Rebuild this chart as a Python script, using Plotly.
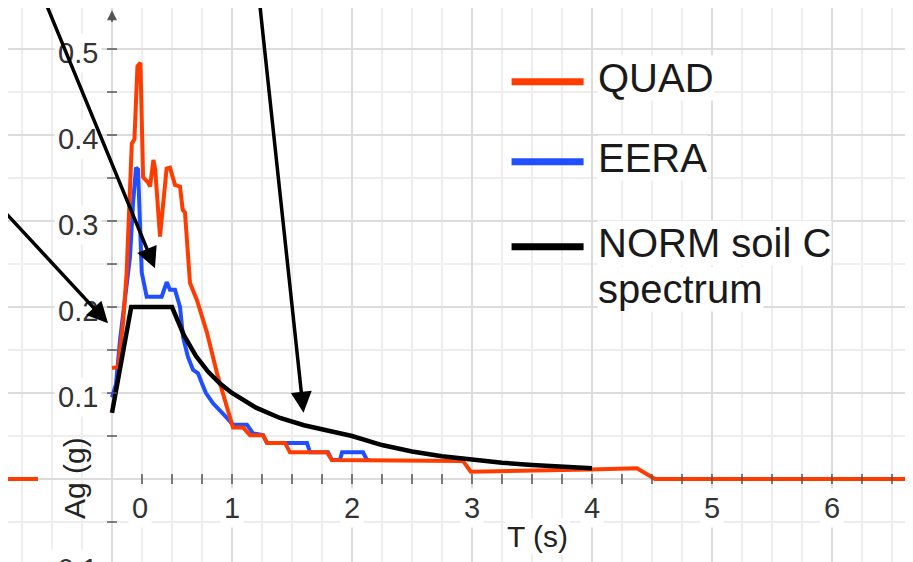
import plotly.graph_objects as go

# values: period T (s) against spectral acceleration Ag (g)
quad_t = [0.0, 0.05, 0.067, 0.092, 0.122, 0.133, 0.165, 0.187, 0.212, 0.237,
          0.259, 0.3, 0.317, 0.345, 0.36, 0.4, 0.455, 0.483, 0.525, 0.567,
          0.589, 0.608, 0.633, 0.65, 0.708, 0.792, 0.875, 0.917, 0.983, 1.008,
          1.092, 1.15, 1.258, 1.292, 1.442, 1.483, 1.792, 1.833, 2.925, 2.99,
          3.98, 4.375, 4.525, 6.742]
quad_ag = [0.129, 0.13, 0.15, 0.181, 0.24, 0.28, 0.39, 0.395, 0.48, 0.484,
           0.351, 0.345, 0.34, 0.371, 0.36, 0.282, 0.361, 0.362, 0.342, 0.34,
           0.313, 0.31, 0.266, 0.228, 0.208, 0.17, 0.123, 0.104, 0.072, 0.06,
           0.06, 0.051, 0.051, 0.042, 0.042, 0.031, 0.031, 0.022, 0.021, 0.0085,
           0.011, 0.0125, 0.0, 0.0]

eera_t = [0.0, 0.033, 0.067, 0.1, 0.15, 0.175, 0.2, 0.217, 0.233, 0.248,
          0.289, 0.414, 0.456, 0.483, 0.525, 0.567, 0.592, 0.633, 0.675, 0.717,
          0.75, 0.783, 0.842, 0.9, 0.958, 1.008, 1.125, 1.175, 1.258, 1.292,
          1.625, 1.65, 1.8, 1.833, 1.9, 1.917, 2.092, 2.125, 2.15]
eera_ag = [0.095, 0.11, 0.162, 0.2, 0.258, 0.32, 0.362, 0.36, 0.278, 0.24,
           0.212, 0.212, 0.229, 0.22, 0.22, 0.2, 0.165, 0.142, 0.127, 0.123,
           0.111, 0.1, 0.088, 0.08, 0.071, 0.063, 0.063, 0.053, 0.051, 0.042,
           0.042, 0.031, 0.031, 0.022, 0.022, 0.031, 0.031, 0.022, 0.022]

norm_t = [0.0, 0.16, 0.5, 0.6, 0.7, 0.8, 0.9, 1.0, 1.2, 1.4, 1.6, 1.8, 2.0,
          2.25, 2.5, 2.75, 3.0, 3.25, 3.5, 3.75, 4.0]
norm_ag = [0.077, 0.2, 0.2, 0.167, 0.143, 0.125, 0.111, 0.1, 0.083, 0.071,
           0.0625, 0.0556, 0.05, 0.0395, 0.032, 0.0264, 0.0222, 0.0189, 0.0163,
           0.0142, 0.0125]

# short red stub left of the vertical axis
stub_t = [-0.867, -0.617]
stub_ag = [0.0, 0.0]

xtick_vals = [0, 1, 2, 3, 4, 5, 6]
xtick_text = ['0', '1', '2', '3', '4', '5', '6']
ytick_vals = [-0.1, 0.1, 0.2, 0.3, 0.4, 0.5]
ytick_text = ['-0.1', '0.1', '0.2', '0.3', '0.4', '0.5']

series_names = ['QUAD', 'EERA', 'NORM soil C']

# hand-drawn pointer arrows: tail (T, Ag) -> head (T, Ag)
pointers = [(-0.592, 0.567, 0.358, 0.245),
            (-0.99, 0.325, -0.033, 0.181),
            (1.22, 0.567, 1.596, 0.077)]

RED = '#ff3c00'
BLUE = '#1f4fff'
BLACK = '#000000'
AXIS = '#555555'
FONT = 'Liberation Sans, Arial, sans-serif'
# the page body adds an 8 px offset, so the plot area starts 8 px in
X_RANGE = [-0.8667, 6.742]
Y_RANGE = [-0.1058, 0.5477]

fig = go.Figure()
fig.add_trace(go.Scatter(x=stub_t, y=stub_ag, mode='lines',
                         line=dict(color=RED, width=4), hoverinfo='skip'))
fig.add_trace(go.Scatter(x=eera_t, y=eera_ag, name='EERA', mode='lines',
                         line=dict(color=BLUE, width=4)))
fig.add_trace(go.Scatter(x=quad_t, y=quad_ag, name='QUAD', mode='lines',
                         line=dict(color=RED, width=4)))
fig.add_trace(go.Scatter(x=norm_t, y=norm_ag, name='NORM soil C spectrum', mode='lines',
                         line=dict(color=BLACK, width=4.5)))

# small tick marks sitting on the two axis lines
xt = [k * 0.25 for k in range(1, 27)]
yt = [k * 0.05 for k in range(-2, 11) if k != 0]
fig.add_trace(go.Scatter(x=xt, y=[0] * len(xt), mode='markers', hoverinfo='skip',
                         marker=dict(symbol='line-ns', size=7, line=dict(color=AXIS, width=1.5))))
fig.add_trace(go.Scatter(x=[0] * len(yt), y=yt, mode='markers', hoverinfo='skip',
                         marker=dict(symbol='line-ew', size=7, line=dict(color=AXIS, width=1.5))))

shapes = [
    dict(type='line', xref='x', yref='y', x0=-0.49, x1=X_RANGE[1], y0=0, y1=0,
         line=dict(color=AXIS, width=2), layer='below'),
    dict(type='line', xref='x', yref='y', x0=0, x1=0, y0=Y_RANGE[0], y1=0.535,
         line=dict(color=AXIS, width=2), layer='below'),
]

annotations = []
for v, t in zip(xtick_vals, xtick_text):
    annotations.append(dict(x=v, y=0, xref='x', yref='y', text=t, showarrow=False,
                            xshift=28 if v == 0 else 0, yshift=-29,
                            font=dict(family=FONT, size=29, color='#333333'),
                            bgcolor='white', borderpad=3))
for v, t in zip(ytick_vals, ytick_text):
    annotations.append(dict(x=0, y=v, xref='x', yref='y', text=t, showarrow=False,
                            xanchor='right', xshift=-10, yshift=-4,
                            font=dict(family=FONT, size=29, color='#333333'),
                            bgcolor='white', borderpad=3))
annotations.append(dict(x=3.55, y=0, xref='x', yref='y', text='T (s)', showarrow=False,
                        yshift=-57, font=dict(family=FONT, size=30, color='#222222'),
                        bgcolor='white'))
annotations.append(dict(x=0, y=0, xref='x', yref='y', text='Ag (g)', showarrow=False,
                        textangle=-90, xshift=-38, yshift=1,
                        font=dict(family=FONT, size=30, color='#222222')))
# axis arrow tip
annotations.append(dict(x=0, y=0.545, ax=0, ay=0.53, xref='x', yref='y', axref='x', ayref='y',
                        text='', showarrow=True, arrowhead=2, arrowsize=1, arrowwidth=2,
                        arrowcolor=AXIS))

# legend, drawn by hand to match the long line samples
legend_colors = [RED, BLUE, BLACK]
legend_y = [0.462, 0.369, 0.27]
for name, c, ly in zip(series_names, legend_colors, legend_y):
    shapes.append(dict(type='line', xref='x', yref='y', x0=3.33, x1=3.93, y0=ly, y1=ly,
                       line=dict(color=c, width=7)))
    annotations.append(dict(x=4.04, y=ly, xref='x', yref='y', text=name, showarrow=False,
                            xanchor='left', yshift=4,
                            font=dict(family=FONT, size=40, color='#1a1a1a'),
                            bgcolor='white', borderpad=0))
annotations.append(dict(x=4.04, y=0.27, xref='x', yref='y', text='spectrum', showarrow=False,
                        xanchor='left', yshift=-42,
                        font=dict(family=FONT, size=40, color='#1a1a1a'),
                        bgcolor='white', borderpad=0))

for t0, a0, t1, a1 in pointers:
    annotations.append(dict(x=t1, y=a1, ax=t0, ay=a0, xref='x', yref='y', axref='x', ayref='y',
                            text='', showarrow=True, arrowhead=2, arrowsize=1.2,
                            arrowwidth=3.5, arrowcolor=BLACK, standoff=0))

fig.update_layout(
    width=913, height=562,
    margin=dict(l=0, r=0, t=0, b=0),
    plot_bgcolor='white', paper_bgcolor='white',
    showlegend=False,
    xaxis=dict(range=X_RANGE, tick0=0, dtick=1, showgrid=True, gridcolor='#dcdcdc', gridwidth=1.5,
               minor=dict(tick0=0, dtick=0.25, showgrid=True, gridcolor='#eeeeee', gridwidth=1.5),
               zeroline=False, showticklabels=False, ticks='', fixedrange=True),
    yaxis=dict(range=Y_RANGE, tick0=0, dtick=0.1, showgrid=True, gridcolor='#dcdcdc', gridwidth=1.5,
               minor=dict(tick0=0, dtick=0.05, showgrid=True, gridcolor='#eeeeee', gridwidth=1.5),
               zeroline=False, showticklabels=False, ticks='', fixedrange=True),
    shapes=shapes,
    annotations=annotations,
)

fig.write_html("out.html")
